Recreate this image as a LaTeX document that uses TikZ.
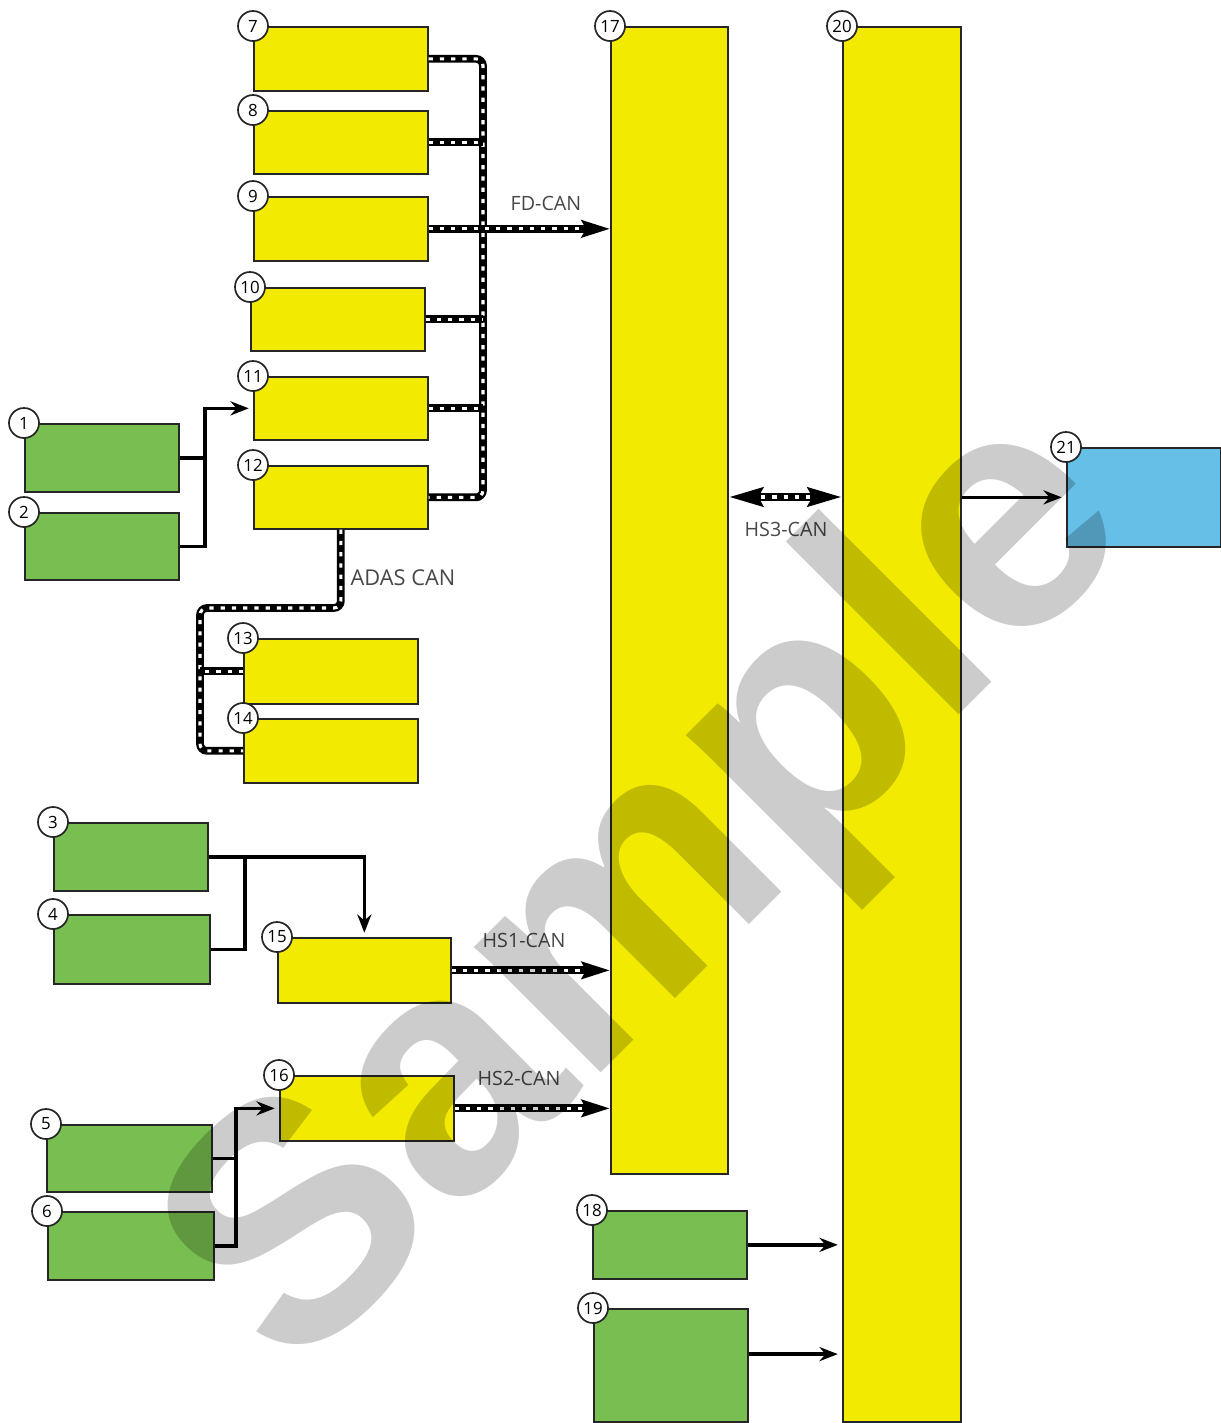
\documentclass[tikz,border=0pt]{standalone}
\usepackage{fontspec}
\setsansfont{Open Sans}
\newfontfamily\wmfont{Liberation Sans}
\usepackage{tikz}
\usetikzlibrary{arrows.meta,calc,positioning}
\definecolor{ecuyel}{RGB}{242,234,0}
\definecolor{ecugrn}{RGB}{120,190,80}
\definecolor{ecublu}{RGB}{102,191,230}
\definecolor{wmark}{RGB}{204,204,204}

\begin{document}
\begin{tikzpicture}[x=0.025cm,y=-0.025cm,
  box/.style={draw=black!85,line width=1.2pt,anchor=north west,inner sep=0pt},
  num/.style={circle,draw=black!85,fill=white,line width=1.2pt,minimum size=0.75cm,inner sep=0pt,font=\sffamily\fontsize{12}{12}\selectfont},
  sig/.style={line width=2.4pt,-{Stealth[length=13pt,width=10pt]}},
  canbus/.style={line width=5.5pt,rounded corners=5pt,postaction={draw=white,line width=2.2pt,dash pattern=on 3pt off 5pt,-,#1}},
  canbus/.default={},
  lbl/.style={font=\sffamily\fontsize{14}{14}\selectfont,text=black!72}]
  \useasboundingbox (0,0) rectangle (1221,1423);
  % modules
  \foreach \n/\x/\y/\w/\h/\c in {1/24/423/154/68/ecugrn,2/24/512/154/67/ecugrn,3/53/822/154/68/ecugrn,
      4/53/914/156/69/ecugrn,5/46/1124/165/67/ecugrn,6/47/1211/166/68/ecugrn,
      7/253/26/174/64/ecuyel,8/253/110/174/63/ecuyel,9/253/196/174/64/ecuyel,10/250/287/174/63/ecuyel,
      11/253/376/174/63/ecuyel,12/253/465/174/63/ecuyel,13/243/638/174/65/ecuyel,14/243/718/174/64/ecuyel,
      15/277/937/173/65/ecuyel,16/279/1075/174/65/ecuyel,17/610/26/117/1147/ecuyel,
      18/592/1210/154/68/ecugrn,19/593/1308/154/113/ecugrn,20/842/26/118/1395/ecuyel,21/1066/447/154/99/ecublu}
    {\node[box,fill=\c,minimum width=\w*0.025cm,minimum height=\h*0.025cm] (b\n) at (\x,\y) {};}
  % FD-CAN
  \coordinate (fdbus) at (483,0);
  \draw[canbus] (b7.east) -| (fdbus |- b12.east) -- (b12.east);
  \foreach \n in {8,10,11} {\draw[canbus] (b\n.east) -- (b\n.east -| fdbus);}
  \draw[canbus={shorten >=20pt},-{Stealth[length=20pt,width=12pt,inset=3pt]}] (b9.east) -- (b9.east -| b17.west);
  \node[lbl] (lfd) at (546,203) {FD-CAN};
  % ADAS CAN
  \coordinate (adas) at (200,608);
  \draw[canbus] (b12.south) |- (adas) |- (b14.west);
  \draw[canbus] (b13.west) -- (b13.west -| adas);
  \node[lbl,font=\sffamily\fontsize{15.5}{15.5}\selectfont] (ladas) at (403,578) {ADAS CAN};
  % HS1 / HS2 / HS3
  \draw[canbus={shorten >=20pt},-{Stealth[length=20pt,width=12pt,inset=3pt]}] (b15.east) -- (b15.east -| b17.west);
  \node[lbl] (lhs1) at (524,940) {HS1-CAN};
  \draw[canbus={shorten >=20pt},-{Stealth[length=20pt,width=12pt,inset=3pt]}] (b16.east) -- (b16.east -| b17.west);
  \node[lbl] (lhs2) at (519,1078) {HS2-CAN};
  \coordinate (hs3) at (785,497);
  \draw[canbus={shorten <=23pt,shorten >=23pt},{Stealth[length=24pt,width=13pt,inset=3pt]}-{Stealth[length=24pt,width=13pt,inset=3pt]}] (b17.east |- hs3) -- (b20.west |- hs3);
  \node[lbl] (lhs3) at (786,529) {HS3-CAN};
  % discrete signals
  \coordinate (j12) at (205,0);
  \draw[sig] (b2.east) -| (j12 |- b11.west) -- ([xshift=-3pt]b11.west);
  \draw[sig,-] (b1.east) -- (b1.east -| j12);
  \coordinate (j34) at (245,0);
  \draw[sig] (b3.east) -| ([yshift=3pt]b15.north);
  \draw[sig,-] (b4.east) -| (j34 |- b3.east);
  \coordinate (j56) at (236,0);
  \draw[sig] (b6.east) -| (j56 |- b16.west) -- ([xshift=-3pt]b16.west);
  \draw[sig,-] (b5.east) -- (b5.east -| j56);
  \draw[sig] (b18.east) -- ([xshift=-3pt]b18.east -| b20.west);
  \draw[sig] ([yshift=8pt]b19.east) -- ([xshift=-3pt,yshift=8pt]b19.east -| b20.west);
  \draw[sig,line width=2pt] (b20.east |- b21.west) -- ([xshift=-3pt]b21.west);
  % numbers
  \foreach \n in {1,...,21} {\node[num] (n\n) at (b\n.north west) {\n};}
  % watermark
  \begin{scope}[blend mode=multiply]
    \node[text=wmark,rotate=45,font=\wmfont\bfseries\fontsize{240}{240}\selectfont] (wm) at (655,895) {Sample};
  \end{scope}
\end{tikzpicture}
\end{document}
